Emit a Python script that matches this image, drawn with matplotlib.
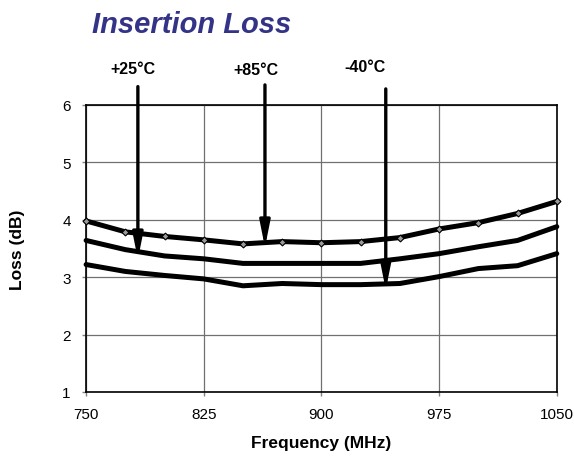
import matplotlib
matplotlib.use("Agg")
import matplotlib.pyplot as plt

plt.rcParams['font.family'] = ['Liberation Sans', 'DejaVu Sans']

freq = [750, 775, 800, 825, 850, 875, 900, 925, 950, 975, 1000, 1025, 1050]
loss_top = [3.98, 3.79, 3.71, 3.65, 3.58, 3.62, 3.60, 3.62, 3.69, 3.84, 3.95, 4.11, 4.32]
loss_mid = [3.64, 3.48, 3.37, 3.32, 3.24, 3.24, 3.24, 3.24, 3.32, 3.41, 3.53, 3.64, 3.88]
loss_bot = [3.22, 3.10, 3.03, 2.97, 2.85, 2.89, 2.87, 2.87, 2.89, 3.01, 3.15, 3.20, 3.41]

x_ticks = [750, 825, 900, 975, 1050]
y_ticks = [1, 2, 3, 4, 5, 6]

arrow_labels = ["+25°C", "+85°C", "-40°C"]
arrow_x = [783, 864, 941]
arrow_tip = [3.31, 3.52, 2.78]
arrow_top = [6.32, 6.35, 6.28]
label_x = [780, 858, 928]
label_y = [6.63, 6.62, 6.67]

fig = plt.figure(figsize=(5.74, 4.60), dpi=100)
ax = fig.add_axes([0.150, 0.1457, 0.820, 0.6239])

ax.set_xlim(750, 1050)
ax.set_ylim(1, 6)
ax.set_xticks(x_ticks)
ax.set_yticks(y_ticks)
ax.grid(True, color='#707070', linewidth=0.9)
ax.set_axisbelow(True)
for s in ax.spines.values():
    s.set_color('black')
    s.set_linewidth(1.2)
ax.tick_params(axis='both', labelsize=11, length=3, width=1, color='#808080', pad=8)

for ys in (loss_bot, loss_mid):
    ax.plot(freq, ys, color='black', linewidth=3.6, solid_joinstyle='round',
            solid_capstyle='round', clip_on=False, zorder=3)
ax.plot(freq, loss_top, color='black', linewidth=3.6, solid_joinstyle='round',
        solid_capstyle='round', marker='D', markersize=3.5, markerfacecolor='#999999',
        markeredgecolor='black', markeredgewidth=0.8, clip_on=False, zorder=3)

for lab, xa, tip, top, lx, ly in zip(arrow_labels, arrow_x, arrow_tip, arrow_top, label_x, label_y):
    ax.annotate('', xy=(xa, tip), xytext=(xa, top),
                arrowprops=dict(arrowstyle='-|>,head_length=1.5,head_width=0.3',
                                color='black', linewidth=2.4, shrinkA=0, shrinkB=0),
                annotation_clip=False, zorder=4)
    ax.text(lx, ly, lab, fontsize=11.5, fontweight='bold', ha='center', va='center',
            clip_on=False)

ax.set_xlabel('Frequency (MHz)', fontsize=12.5, fontweight='bold', labelpad=10)
ax.set_ylabel('Loss (dB)', fontsize=12.5, fontweight='bold', labelpad=27)

fig.text(92/574, 1 - 33/460, 'Insertion Loss', fontsize=21, fontweight='bold',
         fontstyle='italic', color='#333388', ha='left', va='baseline')

fig.savefig('out.png', dpi=100)
